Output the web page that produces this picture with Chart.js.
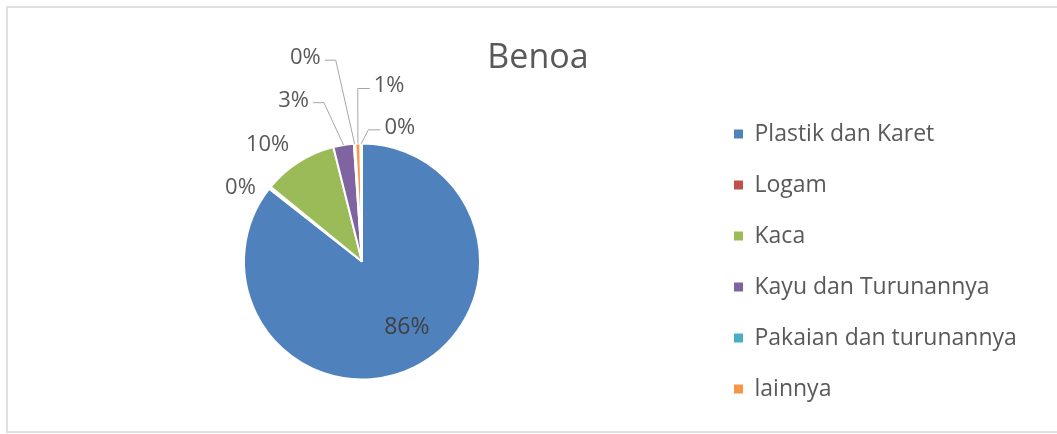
<!DOCTYPE html>
<html><head><meta charset="utf-8">
<script src="https://cdn.jsdelivr.net/npm/chart.js@4.4.0/dist/chart.umd.min.js"></script>
<style>
html,body{margin:0;padding:0;background:#fff;overflow:hidden}
canvas{display:block}
</style></head><body>
<canvas id="c" width="1057" height="434"></canvas>
<script>
const chartTitle = 'Benoa';
const categories = ['Plastik dan Karet', 'Logam', 'Kaca', 'Kayu dan Turunannya', 'Pakaian dan turunannya', 'lainnya', ''];
const shares = [85.6, 0.3, 10.2, 2.8, 0.2, 0.7, 0.2];
const sliceColors = ['#4F81BD', '#C0504D', '#9BBB59', '#8064A2', '#4BACC6', '#F79646', '#2C4D75'];

// label placement relative to pie centre, in units of the radius
const labelPlacement = [
  {dx: 0.38, dy: 0.54, leader: false, inside: true},
  {dx: -1.03, dy: -0.64, leader: false},
  {dx: -0.80, dy: -1.00, leader: false},
  {dx: -0.58, dy: -1.38, leader: true},
  {dx: -0.48, dy: -1.74, leader: true},
  {dx: 0.23, dy: -1.50, leader: true},
  {dx: 0.32, dy: -1.15, leader: true}
];

const FONT = '"Open Sans"';
const legendFontSize = 23;
const legendPad = 28;
const legendBox = 9;
const legendLeft = 706;

// measure longest legend text to place legend
const mctx = document.createElement('canvas').getContext('2d');
mctx.font = legendFontSize + 'px ' + FONT;
let maxTextW = 0;
categories.forEach(c => { if (c) maxTextW = Math.max(maxTextW, mctx.measureText(c).width); });
const legendW = legendPad + legendBox + legendFontSize / 2 + maxTextW + 10;
const padRight = 1057 - legendLeft - legendW;

const framePlugin = {
  id: 'frame',
  beforeDraw(chart) {
    const ctx = chart.ctx;
    ctx.save();
    ctx.strokeStyle = '#E0E0E0';
    ctx.lineWidth = 2;
    ctx.beginPath();
    ctx.moveTo(1060, 7);
    ctx.lineTo(7, 7);
    ctx.lineTo(7, 432);
    ctx.lineTo(1060, 432);
    ctx.stroke();
    ctx.restore();
  }
};

const labelsPlugin = {
  id: 'sliceLabels',
  afterDatasetsDraw(chart) {
    const ctx = chart.ctx;
    const meta = chart.getDatasetMeta(0);
    const data = chart.data.datasets[0].data;
    const total = data.reduce((a, b) => a + b, 0);
    meta.data.forEach((arc, i) => {
      const p = arc.getProps(['x', 'y', 'startAngle', 'endAngle', 'outerRadius'], true);
      const r = p.outerRadius;
      const pl = labelPlacement[i];
      const txt = Math.round(data[i] / total * 100) + '%';
      const size = pl.inside ? 23 : 22;
      ctx.save();
      ctx.font = size + 'px ' + FONT;
      ctx.fillStyle = pl.inside ? '#404040' : '#595959';
      ctx.textAlign = 'center';
      ctx.textBaseline = 'alphabetic';
      const cx = p.x + pl.dx * r;
      const cy = p.y + pl.dy * r;
      ctx.fillText(txt, cx, cy + 0.36 * size);
      if (pl.leader) {
        const w = ctx.measureText(txt).width;
        const mid = (p.startAngle + p.endAngle) / 2;
        const ax = p.x + Math.cos(mid) * r;
        const ay = p.y + Math.sin(mid) * r;
        const ly = cy + 4;
        const right = ax > cx;
        const x0 = right ? cx + w / 2 + 4 : cx - w / 2 - 4;
        const x1 = right ? x0 + 11 : x0 - 12;
        ctx.strokeStyle = '#A6A6A6';
        ctx.lineWidth = 1;
        ctx.beginPath();
        ctx.moveTo(x0, ly);
        ctx.lineTo(x1, ly);
        ctx.lineTo(ax, ay);
        ctx.stroke();
      }
      ctx.restore();
    });
  }
};

const titlePlugin = {
  id: 'plainTitle',
  afterDraw(chart) {
    const ctx = chart.ctx;
    ctx.save();
    ctx.font = '34px ' + FONT;
    ctx.fillStyle = '#595959';
    ctx.textAlign = 'center';
    ctx.textBaseline = 'alphabetic';
    ctx.fillText(chartTitle, 538, 68);
    ctx.restore();
  }
};

new Chart(document.getElementById('c'), {
  type: 'pie',
  data: {
    labels: categories,
    datasets: [{
      data: shares,
      backgroundColor: sliceColors,
      borderColor: '#FFFFFF',
      borderWidth: 2,
      radius: 118
    }]
  },
  options: {
    responsive: false,
    animation: false,
    layout: {padding: {left: 18, right: padRight, top: 91, bottom: 2}},
    plugins: {
      tooltip: {enabled: false},
      title: {display: false},
      legend: {
        position: 'right',
        labels: {
          boxWidth: legendBox,
          boxHeight: legendBox,
          padding: legendPad,
          color: '#595959',
          font: {family: FONT, size: legendFontSize},
          filter: item => item.text !== '',
          generateLabels: chart => Chart.overrides.pie.plugins.legend.labels.generateLabels(chart).map(it => Object.assign(it, {lineWidth: 0, strokeStyle: it.fillStyle}))
        }
      }
    }
  },
  plugins: [framePlugin, labelsPlugin, titlePlugin]
});
</script>
</body></html>
